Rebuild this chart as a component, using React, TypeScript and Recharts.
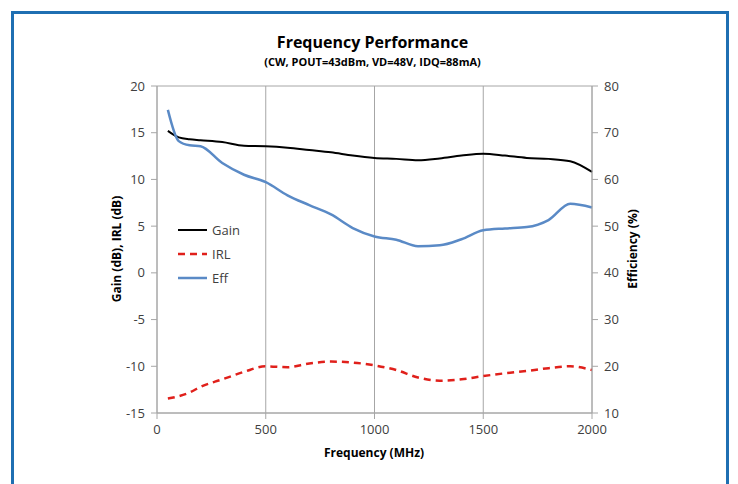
import React from 'react';
import { LineChart, Line, XAxis, YAxis, CartesianGrid, Legend } from 'recharts';

const frequency = [50, 100, 150, 200, 300, 400, 500, 600, 700, 800, 900, 1000, 1100, 1200, 1300, 1400, 1500, 1600, 1700, 1800, 1900, 2000];
const gain = [15.2, 14.5, 14.3, 14.2, 14.0, 13.6, 13.55, 13.4, 13.15, 12.9, 12.55, 12.3, 12.2, 12.05, 12.25, 12.55, 12.75, 12.55, 12.3, 12.2, 11.95, 10.8];
const irl = [-13.45, -13.2, -12.8, -12.2, -11.4, -10.6, -10.0, -10.1, -9.7, -9.5, -9.6, -9.9, -10.4, -11.2, -11.55, -11.4, -11.05, -10.75, -10.5, -10.2, -10.0, -10.4];
const eff = [74.9, 68.2, 67.3, 67.1, 63.5, 61.0, 59.4, 56.6, 54.5, 52.5, 49.6, 47.8, 47.1, 45.7, 45.9, 47.2, 49.1, 49.5, 49.8, 51.3, 54.8, 54.0];

const xTicks = [0, 500, 1000, 1500, 2000];
const leftTicks = [-15, -10, -5, 0, 5, 10, 15, 20];
const rightTicks = [10, 20, 30, 40, 50, 60, 70, 80];

const data = frequency.map((f, i) => ({ f, gain: gain[i], irl: irl[i], eff: eff[i] }));

const FONT = '"Open Sans", "Liberation Sans", sans-serif';
const tickStyle = { fontSize: 13, fill: '#404040', fontFamily: FONT };

const LegendContent = () => {
  const items = [
    { name: 'Gain', color: '#000000', dash: undefined as string | undefined, w: 2 },
    { name: 'IRL', color: '#e0201b', dash: '7 5', w: 2.5 },
    { name: 'Eff', color: '#5a8ac6', dash: undefined, w: 2.5 },
  ];
  return (
    <div style={{ background: '#fff', width: 74, height: 74, paddingTop: 2 }}>
      {items.map((it) => (
        <div key={it.name} style={{ display: 'flex', alignItems: 'center', height: 24 }}>
          <svg width={40} height={10}>
            <line x1={6} y1={5} x2={35} y2={5} stroke={it.color} strokeWidth={it.w} strokeDasharray={it.dash} />
          </svg>
          <span style={{ fontFamily: FONT, fontSize: 13, color: '#404040' }}>{it.name}</span>
        </div>
      ))}
    </div>
  );
};

export default function App() {
  return (
    <div style={{ position: 'absolute', left: 0, top: 0, width: 738, height: 484, background: '#fff', overflow: 'hidden' }}>
      <div style={{ position: 'absolute', left: 11, top: 11, width: 712, height: 500, border: '3px solid #1f6fb2' }} />
      <div style={{ position: 'absolute', left: 0, top: 31, width: 745, textAlign: 'center', fontFamily: FONT, fontWeight: 700, fontSize: 16, color: '#000' }}>
        Frequency Performance
      </div>
      <div style={{ position: 'absolute', left: 0, top: 54, width: 745, textAlign: 'center', fontFamily: FONT, fontWeight: 700, fontSize: 11, color: '#000' }}>
        (CW, POUT=43dBm, VD=48V, IDQ=88mA)
      </div>
      <div style={{ position: 'absolute', left: 0, top: 444, width: 748, textAlign: 'center', fontFamily: FONT, fontWeight: 700, fontSize: 12, color: '#000' }}>
        Frequency (MHz)
      </div>
      <div style={{ position: 'absolute', left: 117 - 100, top: 249 - 8, width: 200, textAlign: 'center', fontFamily: FONT, fontWeight: 700, fontSize: 12, color: '#000', transform: 'rotate(-90deg)', lineHeight: '16px' }}>
        Gain (dB), IRL (dB)
      </div>
      <div style={{ position: 'absolute', left: 633 - 100, top: 249 - 8, width: 200, textAlign: 'center', fontFamily: FONT, fontWeight: 700, fontSize: 12, color: '#000', transform: 'rotate(-90deg)', lineHeight: '16px' }}>
        Efficiency (%)
      </div>
      <div style={{ position: 'absolute', left: 0, top: 0 }}>
        <LineChart width={738} height={484} data={data} margin={{ top: 86, left: 97, right: 86, bottom: 41 }}>
          <CartesianGrid stroke="#a6a6a6" strokeWidth={1} />
          <XAxis
            dataKey="f"
            type="number"
            domain={[0, 2000]}
            ticks={xTicks}
            height={30}
            tick={tickStyle}
            stroke="#a6a6a6"
            tickSize={6}
            tickMargin={6}
          />
          <YAxis
            yAxisId="left"
            domain={[-15, 20]}
            ticks={leftTicks}
            width={60}
            tick={tickStyle}
            stroke="#a6a6a6"
            tickSize={6}
            tickMargin={6}
          />
          <YAxis
            yAxisId="right"
            orientation="right"
            domain={[10, 80]}
            ticks={rightTicks}
            width={60}
            tick={tickStyle}
            stroke="#a6a6a6"
            tickSize={6}
            tickMargin={6}
          />
          <Line yAxisId="left" type="monotone" dataKey="gain" stroke="#000000" strokeWidth={2} dot={false} isAnimationActive={false} />
          <Line yAxisId="left" type="monotone" dataKey="irl" stroke="#e0201b" strokeWidth={2.5} strokeDasharray="7 5" dot={false} isAnimationActive={false} />
          <Line yAxisId="right" type="monotone" dataKey="eff" stroke="#5a8ac6" strokeWidth={2.5} dot={false} isAnimationActive={false} />
          <Legend
            layout="vertical"
            align="center"
            verticalAlign="middle"
            content={<LegendContent />}
            wrapperStyle={{ position: 'absolute', left: 172, top: 216, width: 74, height: 76 }}
          />
        </LineChart>
      </div>
    </div>
  );
}
